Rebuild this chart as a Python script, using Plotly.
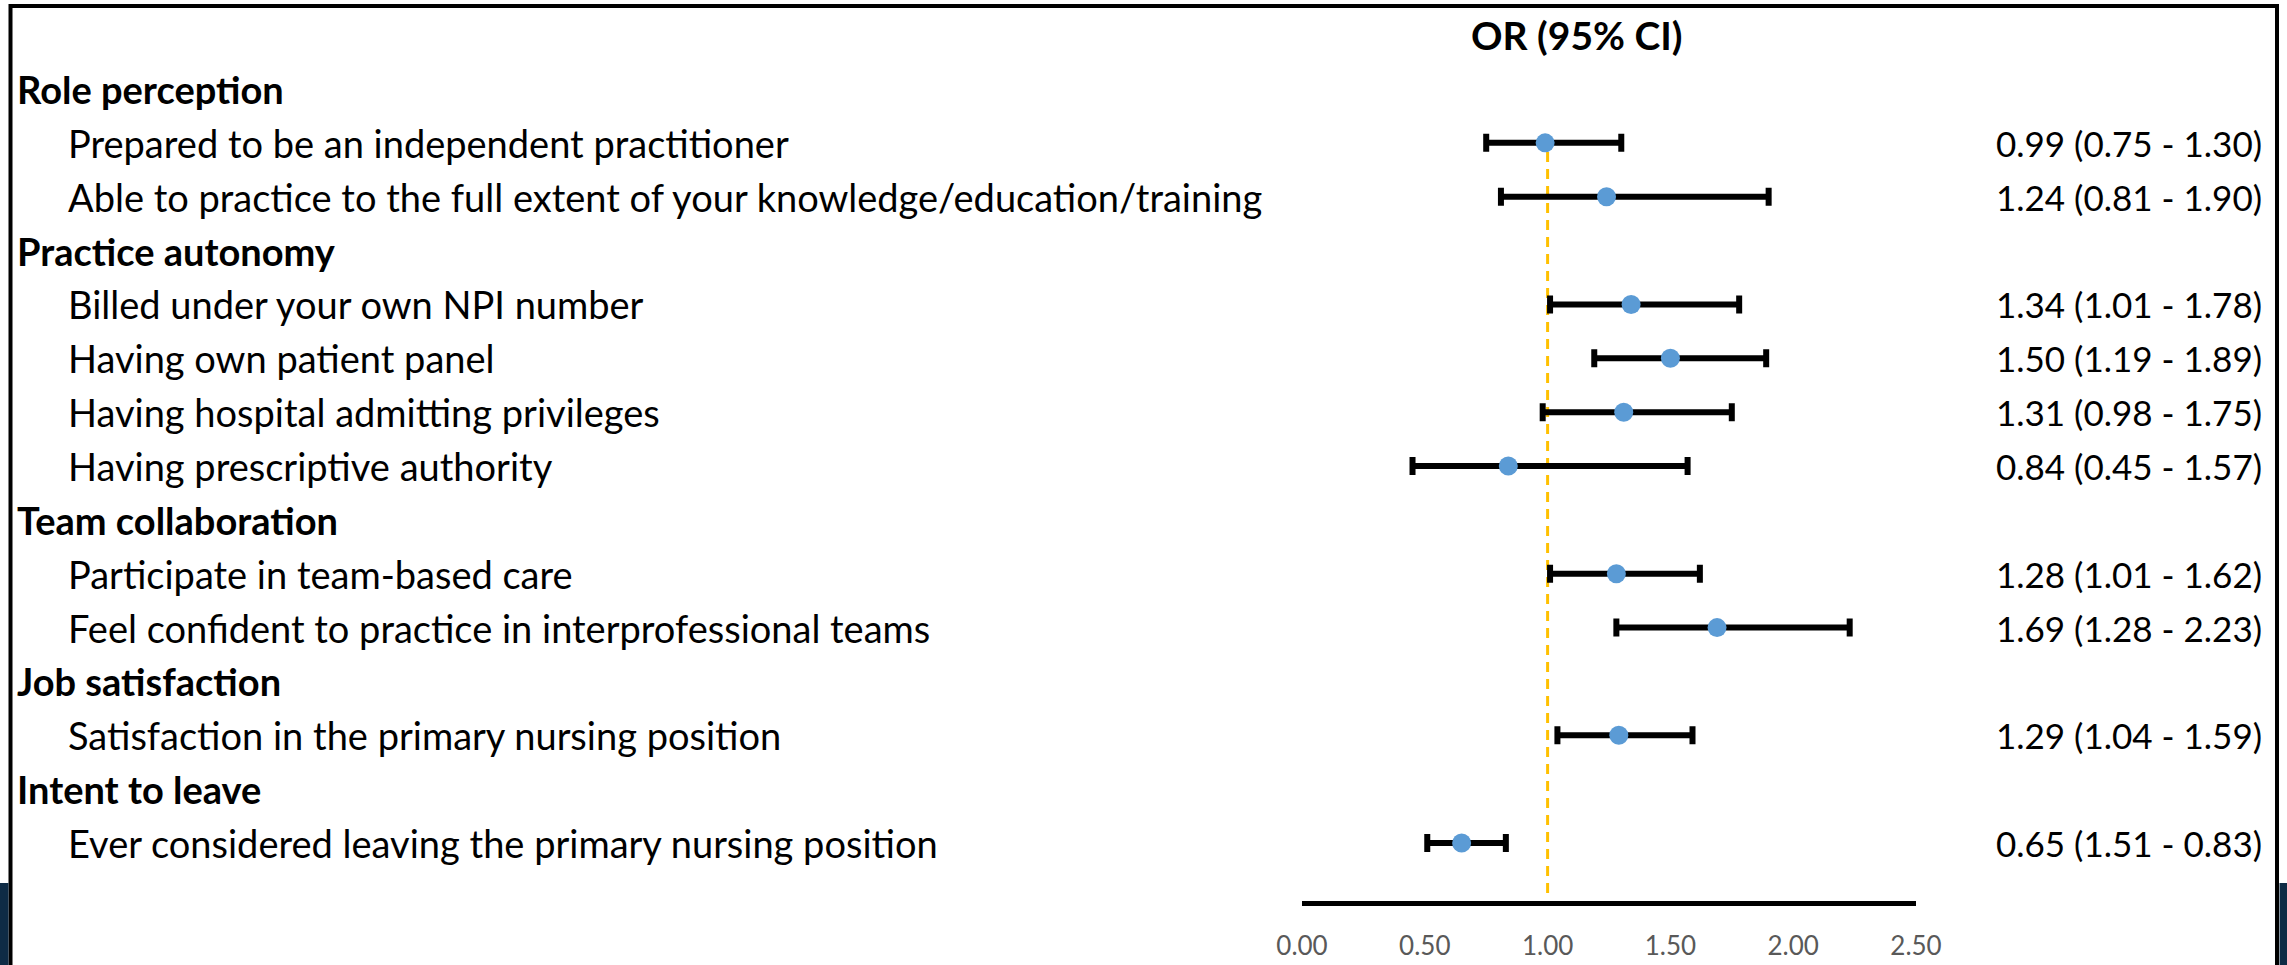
import plotly.graph_objects as go

# ---- data -------------------------------------------------------------
groups = ["Role perception", "Practice autonomy", "Team collaboration",
          "Job satisfaction", "Intent to leave"]

items = [
    "Prepared to be an independent practitioner",
    "Able to practice to the full extent of your knowledge/education/training",
    "Billed under your own NPI number",
    "Having own patient panel",
    "Having hospital admitting privileges",
    "Having prescriptive authority",
    "Participate in team-based care",
    "Feel confident to practice in interprofessional teams",
    "Satisfaction in the primary nursing position",
    "Ever considered leaving the primary nursing position",
]
item_group = [0, 0, 1, 1, 1, 1, 2, 2, 3, 4]

odds_ratio = [0.99, 1.24, 1.34, 1.50, 1.31, 0.84, 1.28, 1.69, 1.29, 0.65]
ci_low = [0.75, 0.81, 1.01, 1.19, 0.98, 0.45, 1.01, 1.28, 1.04, 0.51]
ci_high = [1.30, 1.90, 1.78, 1.89, 1.75, 1.57, 1.62, 2.23, 1.59, 0.83]

ci_text = [
    "0.99 (0.75 - 1.30)", "1.24 (0.81 - 1.90)", "1.34 (1.01 - 1.78)",
    "1.50 (1.19 - 1.89)", "1.31 (0.98 - 1.75)", "0.84 (0.45 - 1.57)",
    "1.28 (1.01 - 1.62)", "1.69 (1.28 - 2.23)", "1.29 (1.04 - 1.59)",
    "0.65 (1.51 - 0.83)",
]

tick_vals = [0.0, 0.5, 1.0, 1.5, 2.0, 2.5]
tick_text = ["0.00", "0.50", "1.00", "1.50", "2.00", "2.50"]

# ---- layout helpers ---------------------------------------------------
W, H = 2287, 965
FONT = "Lato"


def px(x):
    return x / W


def py(y):
    return 1 - y / H


# assign a row to every header and item (headers first, then their items)
header_rows = []
item_rows = []
row = 0
for g in range(len(groups)):
    header_rows.append(row)
    row += 1
    for i, gi in enumerate(item_group):
        if gi == g:
            item_rows.append(row)
            row += 1

# vertical scale: row 0 centred at 89 px, 53.86 px per row, axis line at 901 px
ROW0, STEP, AXIS_Y = 89.0, 53.86, 901.0
y_bottom = (AXIS_Y - ROW0) / STEP
y_top = (0 - ROW0) / STEP

fig = go.Figure()

fig.add_trace(go.Scatter(
    x=odds_ratio,
    y=item_rows,
    mode="markers",
    marker=dict(color="#5B9BD5", size=19, line=dict(width=0)),
    error_x=dict(
        type="data",
        symmetric=False,
        array=[h - o for h, o in zip(ci_high, odds_ratio)],
        arrayminus=[o - l for o, l in zip(odds_ratio, ci_low)],
        color="black",
        thickness=6,
        width=9,
    ),
    showlegend=False,
    hoverinfo="skip",
    cliponaxis=False,
))

annotations = []
for g, r in zip(groups, header_rows):
    annotations.append(dict(
        x=px(15), xref="paper", y=r, yref="y", text="<b>" + g + "</b>",
        xanchor="left", yanchor="middle", showarrow=False,
        font=dict(family=FONT, size=38, color="black"),
    ))
for name, r in zip(items, item_rows):
    annotations.append(dict(
        x=px(66), xref="paper", y=r, yref="y", text=name,
        xanchor="left", yanchor="middle", showarrow=False,
        font=dict(family=FONT, size=38, color="black"),
    ))
for t, r in zip(ci_text, item_rows):
    annotations.append(dict(
        x=px(2264), xref="paper", y=r, yref="y", text=t,
        xanchor="right", yanchor="middle", showarrow=False,
        font=dict(family=FONT, size=35, color="black"),
    ))
annotations.append(dict(
    x=px(1577), xref="paper", y=py(35), yref="paper", text="<b>OR (95% CI)</b>",
    xanchor="center", yanchor="middle", showarrow=False,
    font=dict(family=FONT, size=39, color="black"),
))

shapes = [
    # reference line at OR = 1
    dict(type="line", xref="x", yref="paper", x0=1, x1=1,
         y0=py(893), y1=py(134),
         line=dict(color="#FFC000", width=3, dash="10px,7px"), layer="below"),
    # frame
    dict(type="line", xref="paper", yref="paper", x0=px(9), x1=px(2279),
         y0=py(6), y1=py(6), line=dict(color="black", width=4)),
    dict(type="line", xref="paper", yref="paper", x0=px(10.5), x1=px(10.5),
         y0=py(4), y1=0, line=dict(color="black", width=4)),
    dict(type="line", xref="paper", yref="paper", x0=px(2277), x1=px(2277),
         y0=py(4), y1=0, line=dict(color="black", width=4)),
    # background slide edges at the lower corners
    dict(type="rect", xref="paper", yref="paper", x0=0, x1=px(8.5),
         y0=0, y1=py(883), fillcolor="#0E2B45", line=dict(width=0)),
    dict(type="rect", xref="paper", yref="paper", x0=px(2279.5), x1=1,
         y0=0, y1=py(883), fillcolor="#0E2B45", line=dict(width=0)),
]

fig.update_layout(
    width=W,
    height=H,
    margin=dict(l=0, r=0, t=0, b=0, pad=0),
    paper_bgcolor="white",
    plot_bgcolor="white",
    annotations=annotations,
    shapes=shapes,
    xaxis=dict(
        domain=[px(1302), px(1916)],
        range=[0, 2.5],
        showgrid=False,
        zeroline=False,
        showline=True,
        linecolor="black",
        linewidth=5,
        ticks="",
        tickvals=tick_vals,
        ticktext=tick_text,
        tickfont=dict(family=FONT, size=26, color="#595959"),
        ticklabelstandoff=18,
        automargin=False,
        fixedrange=True,
    ),
    yaxis=dict(
        domain=[py(AXIS_Y), 1],
        range=[y_bottom, y_top],
        showgrid=False,
        zeroline=False,
        showline=False,
        showticklabels=False,
        ticks="",
        automargin=False,
        fixedrange=True,
    ),
)

fig.write_html("out.html")
